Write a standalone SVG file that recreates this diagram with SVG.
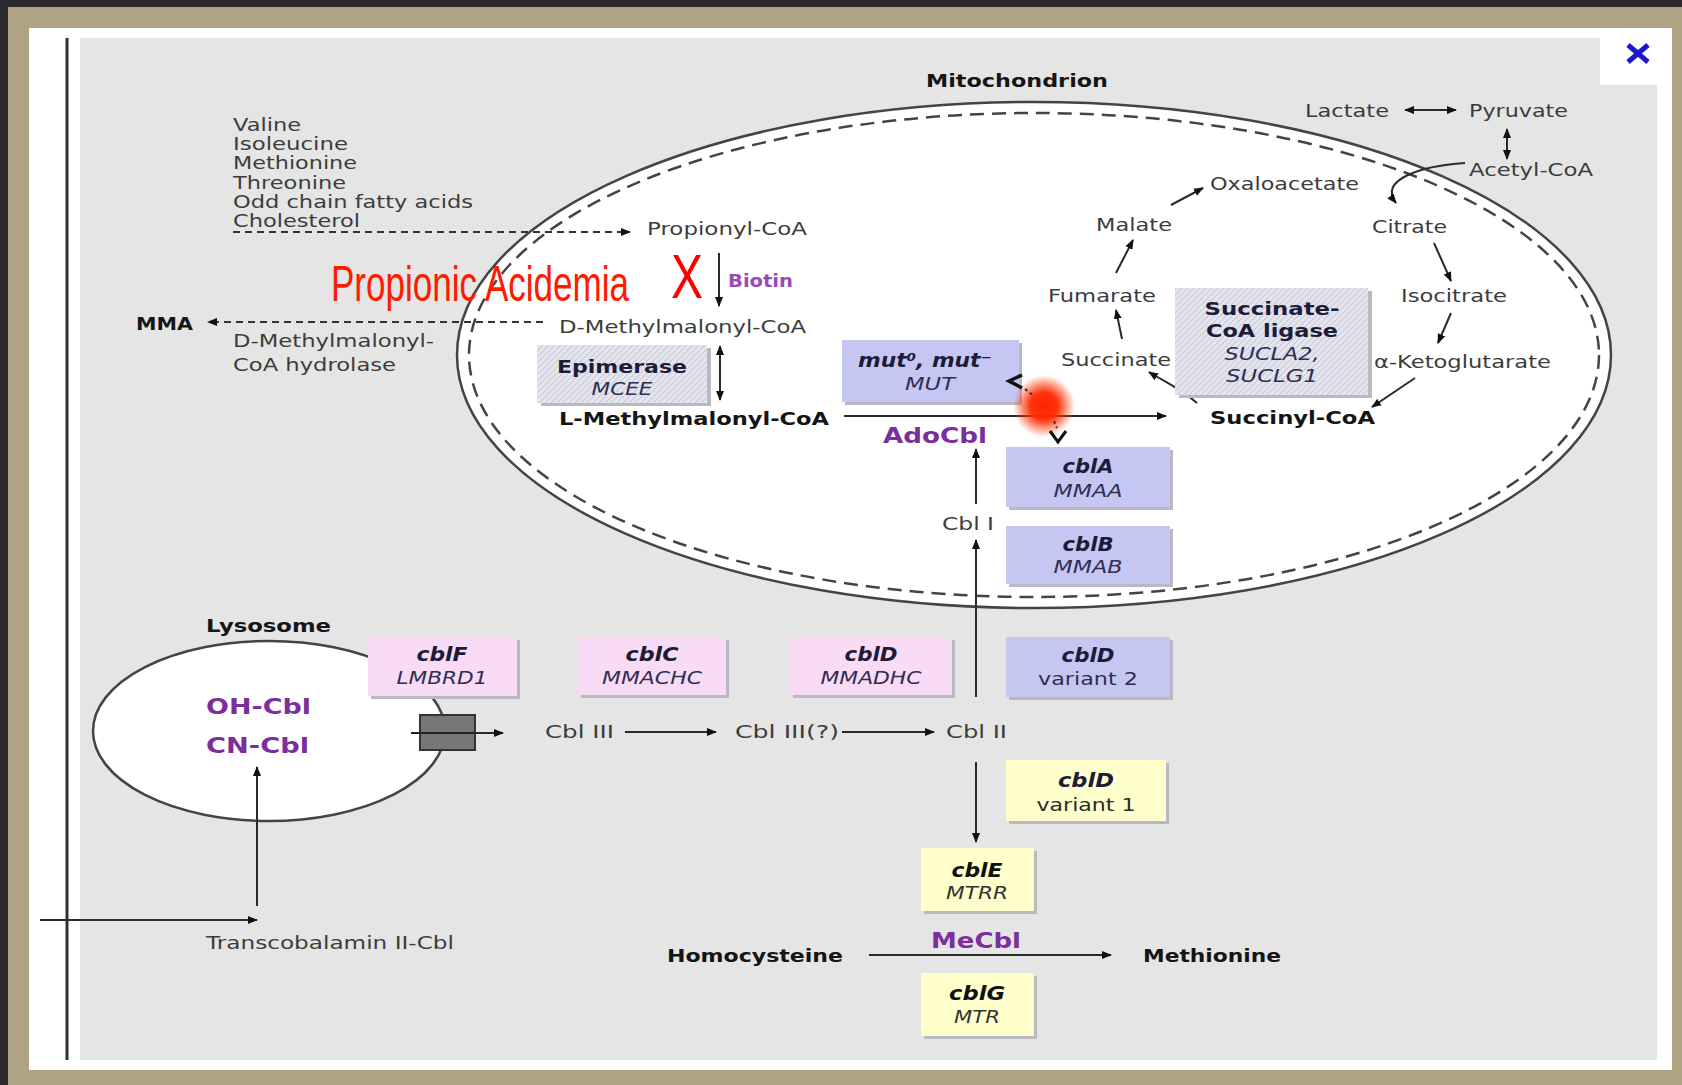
<svg xmlns="http://www.w3.org/2000/svg" width="1682" height="1085" viewBox="0 0 1682 1085">
<defs>
<style>
.t{font-family:"DejaVu Sans",Verdana,sans-serif;font-size:18px;fill:#3c3c3c}
.b{font-weight:bold;fill:#151515}
.p{font-weight:bold;fill:#7b2e9c;font-size:22px}
.gi{font-style:italic;fill:#2e2e52}
.gb{font-style:italic;font-weight:bold;fill:#1c1c3a;font-size:19px}
.ln{stroke:#2a2a2a;stroke-width:2;fill:none}
.dl{stroke:#333;stroke-width:2;fill:none;stroke-dasharray:7 5}
.pink{fill:#f9dbf5}
.lav{fill:#c6c6f2}
.yel{fill:#ffffcc}
.sh{fill:#b9b9c4}
.red{font-family:"Liberation Sans",Arial,sans-serif;fill:#ff1a00}
</style>
<marker id="ah" viewBox="0 0 10 10" refX="9" refY="5" markerWidth="10" markerHeight="10" markerUnits="userSpaceOnUse" orient="auto-start-reverse">
<path d="M0,1 L10,5 L0,9 z" fill="#111"/>
</marker>
<pattern id="hatch" patternUnits="userSpaceOnUse" width="6" height="6">
<rect width="6" height="6" fill="#e4e4ee"/>
<path d="M0,6 L6,0 M-1,1 L1,-1 M5,7 L7,5" stroke="#c2c2d2" stroke-width="1"/>
</pattern>
<radialGradient id="glow">
<stop offset="0" stop-color="#ff2200" stop-opacity="1"/>
<stop offset="0.45" stop-color="#ff2a00" stop-opacity="0.95"/>
<stop offset="0.75" stop-color="#ff3300" stop-opacity="0.45"/>
<stop offset="1" stop-color="#ff4400" stop-opacity="0"/>
</radialGradient>
</defs>

<!-- frame -->
<rect x="0" y="0" width="1682" height="1085" fill="#2a2a2c"/>
<rect x="8" y="7" width="1674" height="1078" fill="#aea382"/>
<rect x="29" y="28" width="1643" height="1042" fill="#ffffff"/>
<rect x="80" y="38" width="1577" height="1022" fill="#e5e5e5"/>
<rect x="1600" y="38" width="57" height="47" fill="#ffffff"/>
<line x1="67" y1="38" x2="67" y2="1060" stroke="#333" stroke-width="3"/>
<g id="close">
<line x1="1628" y1="45" x2="1648" y2="62" stroke="#1a1acc" stroke-width="5"/>
<line x1="1648" y1="45" x2="1628" y2="62" stroke="#1a1acc" stroke-width="5"/>
</g>

<!-- compartments -->
<g id="mitochondrion">
<ellipse cx="1034" cy="355" rx="577" ry="253" fill="#ffffff" stroke="#444" stroke-width="2.5"/>
<ellipse cx="1034" cy="355" rx="565" ry="242" fill="none" stroke="#444" stroke-width="2.5" stroke-dasharray="14 8"/>
<text class="t b" x="926" y="87" textLength="182" lengthAdjust="spacingAndGlyphs">Mitochondrion</text>
</g>
<g id="lysosome">
<ellipse cx="269" cy="731" rx="176" ry="90" fill="#ffffff" stroke="#444" stroke-width="2.5"/>
<text class="t b" x="206" y="632" textLength="125" lengthAdjust="spacingAndGlyphs">Lysosome</text>
<text class="t p" x="206" y="714" font-size="23" textLength="105" lengthAdjust="spacingAndGlyphs">OH-Cbl</text>
<text class="t p" x="206" y="753" font-size="23" textLength="103" lengthAdjust="spacingAndGlyphs">CN-Cbl</text>
</g>

<!-- connectors -->
<g id="connectors">
<path class="dl" d="M233,232 H630" marker-end="url(#ah)"/>
<path class="dl" d="M543,322 H208" marker-end="url(#ah)"/>
<path class="ln" d="M719,253 V306" marker-end="url(#ah)"/>
<path class="ln" d="M720,346 V400" marker-start="url(#ah)" marker-end="url(#ah)"/>
<path class="ln" d="M844,416 H1166" marker-end="url(#ah)"/>
<path class="ln" d="M976,697 V540" marker-end="url(#ah)"/>
<path class="ln" d="M976,504 V449" marker-end="url(#ah)"/>
<path class="ln" d="M976,762 V842" marker-end="url(#ah)"/>
<path class="ln" d="M625,732 H716" marker-end="url(#ah)"/>
<path class="ln" d="M842,732 H934" marker-end="url(#ah)"/>
<path class="ln" d="M411,733 H503" marker-end="url(#ah)"/>
<path class="ln" d="M869,955 H1111" marker-end="url(#ah)"/>
<path class="ln" d="M40,920 H257" marker-end="url(#ah)"/>
<path class="ln" d="M257,906 V767" marker-end="url(#ah)"/>
<path class="ln" d="M1405,110 H1456" marker-start="url(#ah)" marker-end="url(#ah)"/>
<path class="ln" d="M1507,129 V159" marker-start="url(#ah)" marker-end="url(#ah)"/>
<path class="ln" d="M1465,163 C1420,166 1378,180 1396,203" marker-end="url(#ah)"/>
<path class="ln" d="M1171,205 L1203,188" marker-end="url(#ah)"/>
<path class="ln" d="M1434,243 L1451,281" marker-end="url(#ah)"/>
<path class="ln" d="M1451,313 L1438,343" marker-end="url(#ah)"/>
<path class="ln" d="M1415,378 L1372,407" marker-end="url(#ah)"/>
<path class="ln" d="M1197,403 C1180,388 1165,382 1149,372" marker-end="url(#ah)"/>
<path class="ln" d="M1122,339 L1116,310" marker-end="url(#ah)"/>
<path class="ln" d="M1116,273 L1133,240" marker-end="url(#ah)"/>
<path d="M1182,388 L1205,369" stroke="#444" stroke-width="2" stroke-dasharray="6 5" fill="none"/>
</g>

<!-- transporter -->
<g id="transporter">
<rect x="420" y="715" width="55" height="35" fill="#777" stroke="#333" stroke-width="2"/>
<line x1="411" y1="733" x2="475" y2="733" stroke="#222" stroke-width="2"/>
</g>

<!-- enzyme boxes -->
<g id="epimerase">
<rect x="541" y="348" width="170" height="58" class="sh"/>
<rect x="537" y="345" width="170" height="58" fill="url(#hatch)"/>
<text class="t b" x="622" y="373" text-anchor="middle" textLength="130" lengthAdjust="spacingAndGlyphs" style="fill:#1c1c3a">Epimerase</text>
<text class="t gi" x="622" y="395" text-anchor="middle" textLength="61" lengthAdjust="spacingAndGlyphs">MCEE</text>
</g>
<g id="ligase">
<rect x="1179" y="291" width="193" height="107" class="sh"/>
<rect x="1175" y="288" width="193" height="107" fill="url(#hatch)"/>
<text class="t b" x="1272" y="315" text-anchor="middle" textLength="135" lengthAdjust="spacingAndGlyphs" style="fill:#1c1c3a">Succinate-</text>
<text class="t b" x="1272" y="337" text-anchor="middle" textLength="132" lengthAdjust="spacingAndGlyphs" style="fill:#1c1c3a">CoA ligase</text>
<text class="t gi" x="1272" y="360" text-anchor="middle" textLength="95" lengthAdjust="spacingAndGlyphs">SUCLA2,</text>
<text class="t gi" x="1272" y="382" text-anchor="middle" textLength="92" lengthAdjust="spacingAndGlyphs">SUCLG1</text>
</g>
<g id="mut">
<rect x="845" y="343" width="177" height="62" class="sh"/>
<rect x="842" y="340" width="177" height="62" class="lav"/>
<text class="t gb" x="925" y="367" text-anchor="middle" textLength="134" lengthAdjust="spacingAndGlyphs">mut⁰, mut⁻</text>
<text class="t gi" x="930" y="390" text-anchor="middle" textLength="50" lengthAdjust="spacingAndGlyphs">MUT</text>
</g>
<g id="cblA">
<rect x="1009" y="450" width="164" height="60" class="sh"/>
<rect x="1006" y="447" width="164" height="60" class="lav"/>
<text class="t gb" x="1088" y="473" text-anchor="middle" textLength="51" lengthAdjust="spacingAndGlyphs">cblA</text>
<text class="t gi" x="1088" y="497" text-anchor="middle" textLength="69" lengthAdjust="spacingAndGlyphs">MMAA</text>
</g>
<g id="cblB">
<rect x="1009" y="529" width="164" height="58" class="sh"/>
<rect x="1006" y="526" width="164" height="58" class="lav"/>
<text class="t gb" x="1088" y="551" text-anchor="middle" textLength="51" lengthAdjust="spacingAndGlyphs">cblB</text>
<text class="t gi" x="1088" y="573" text-anchor="middle" textLength="69" lengthAdjust="spacingAndGlyphs">MMAB</text>
</g>
<g id="cblD2">
<rect x="1009" y="640" width="164" height="60" class="sh"/>
<rect x="1006" y="637" width="164" height="60" class="lav"/>
<text class="t gb" x="1088" y="662" text-anchor="middle" textLength="53" lengthAdjust="spacingAndGlyphs">cblD</text>
<text class="t" x="1088" y="685" text-anchor="middle" textLength="100" lengthAdjust="spacingAndGlyphs" style="fill:#2e2e52">variant 2</text>
</g>
<g id="cblF">
<rect x="371" y="640" width="149" height="59" class="sh"/>
<rect x="368" y="637" width="149" height="59" class="pink"/>
<text class="t gb" x="442" y="661" text-anchor="middle" textLength="51" lengthAdjust="spacingAndGlyphs">cblF</text>
<text class="t gi" x="442" y="684" text-anchor="middle" textLength="91" lengthAdjust="spacingAndGlyphs">LMBRD1</text>
</g>
<g id="cblC">
<rect x="581" y="640" width="148" height="58" class="sh"/>
<rect x="578" y="637" width="148" height="58" class="pink"/>
<text class="t gb" x="652" y="661" text-anchor="middle" textLength="53" lengthAdjust="spacingAndGlyphs">cblC</text>
<text class="t gi" x="652" y="684" text-anchor="middle" textLength="100" lengthAdjust="spacingAndGlyphs">MMACHC</text>
</g>
<g id="cblD">
<rect x="793" y="640" width="162" height="58" class="sh"/>
<rect x="790" y="637" width="162" height="58" class="pink"/>
<text class="t gb" x="871" y="661" text-anchor="middle" textLength="53" lengthAdjust="spacingAndGlyphs">cblD</text>
<text class="t gi" x="871" y="684" text-anchor="middle" textLength="101" lengthAdjust="spacingAndGlyphs">MMADHC</text>
</g>
<g id="cblD1">
<rect x="1009" y="763" width="160" height="61" class="sh"/>
<rect x="1006" y="760" width="160" height="61" class="yel"/>
<text class="t gb" x="1086" y="787" text-anchor="middle" textLength="56" lengthAdjust="spacingAndGlyphs">cblD</text>
<text class="t" x="1086" y="811" text-anchor="middle" textLength="99" lengthAdjust="spacingAndGlyphs" style="fill:#2a2a2a">variant 1</text>
</g>
<g id="cblE">
<rect x="924" y="851" width="113" height="63" class="sh"/>
<rect x="921" y="848" width="113" height="63" class="yel"/>
<text class="t gb" x="977" y="877" text-anchor="middle" textLength="51" lengthAdjust="spacingAndGlyphs" style="fill:#111">cblE</text>
<text class="t gi" x="977" y="899" text-anchor="middle" textLength="62" lengthAdjust="spacingAndGlyphs" style="fill:#333">MTRR</text>
</g>
<g id="cblG">
<rect x="924" y="976" width="113" height="63" class="sh"/>
<rect x="921" y="973" width="113" height="63" class="yel"/>
<text class="t gb" x="977" y="1000" text-anchor="middle" textLength="56" lengthAdjust="spacingAndGlyphs" style="fill:#111">cblG</text>
<text class="t gi" x="977" y="1023" text-anchor="middle" textLength="46" lengthAdjust="spacingAndGlyphs" style="fill:#333">MTR</text>
</g>

<!-- mutation marker over the MUT / cblA junction -->
<g id="mutation-marker">
<circle cx="1044" cy="406" r="31" fill="url(#glow)"/>
<path d="M1025,389 L1034,396 M1054,421 L1057,428" stroke="#333" stroke-width="2" stroke-dasharray="3 3" fill="none"/>
<polyline points="1022,375 1009,381 1022,388" fill="none" stroke="#111" stroke-width="3.5"/>
<polyline points="1050,431 1058,442 1066,431" fill="none" stroke="#111" stroke-width="3"/>
</g>

<!-- metabolites / labels -->
<g id="precursors">
<text class="t" x="233" y="131" textLength="68" lengthAdjust="spacingAndGlyphs">Valine</text>
<text class="t" x="233" y="150" textLength="115" lengthAdjust="spacingAndGlyphs">Isoleucine</text>
<text class="t" x="233" y="169" textLength="124" lengthAdjust="spacingAndGlyphs">Methionine</text>
<text class="t" x="233" y="189" textLength="113" lengthAdjust="spacingAndGlyphs">Threonine</text>
<text class="t" x="233" y="208" textLength="240" lengthAdjust="spacingAndGlyphs">Odd chain fatty acids</text>
<text class="t" x="233" y="227" textLength="127" lengthAdjust="spacingAndGlyphs">Cholesterol</text>
</g>
<g id="propionyl"><text class="t" x="647" y="235" textLength="160" lengthAdjust="spacingAndGlyphs">Propionyl-CoA</text></g>
<g id="biotin"><text class="t" x="728" y="287" font-size="15" textLength="65" lengthAdjust="spacingAndGlyphs" style="font-weight:bold;fill:#9a4ab8">Biotin</text></g>
<g id="pa">
<text class="red" transform="translate(331,301) scale(1,1.43)" font-size="35" textLength="298" lengthAdjust="spacingAndGlyphs">Propionic Acidemia</text>
<text class="red" transform="translate(671,298) scale(1,1.3)" font-size="49" textLength="32" lengthAdjust="spacingAndGlyphs" style="fill:#ff0000">X</text>
</g>
<g id="mma"><text class="t b" x="136" y="330" textLength="57" lengthAdjust="spacingAndGlyphs">MMA</text></g>
<g id="hydrolase">
<text class="t" x="233" y="347" textLength="201" lengthAdjust="spacingAndGlyphs">D-Methylmalonyl-</text>
<text class="t" x="233" y="371" textLength="163" lengthAdjust="spacingAndGlyphs">CoA hydrolase</text>
</g>
<g id="dmm"><text class="t" x="559" y="333" textLength="247" lengthAdjust="spacingAndGlyphs">D-Methylmalonyl-CoA</text></g>
<g id="lmm"><text class="t b" x="559" y="425" textLength="270" lengthAdjust="spacingAndGlyphs">L-Methylmalonyl-CoA</text></g>
<g id="adocbl"><text class="t p" x="883" y="443" textLength="104" lengthAdjust="spacingAndGlyphs">AdoCbl</text></g>
<g id="succinylcoa"><text class="t b" x="1210" y="424" textLength="165" lengthAdjust="spacingAndGlyphs">Succinyl-CoA</text></g>
<g id="cbl1"><text class="t" x="942" y="530" textLength="52" lengthAdjust="spacingAndGlyphs">Cbl I</text></g>
<g id="cbl3"><text class="t" x="545" y="738" textLength="69" lengthAdjust="spacingAndGlyphs">Cbl III</text></g>
<g id="cbl3q"><text class="t" x="735" y="738" textLength="104" lengthAdjust="spacingAndGlyphs">Cbl III(?)</text></g>
<g id="cbl2"><text class="t" x="946" y="738" textLength="61" lengthAdjust="spacingAndGlyphs">Cbl II</text></g>
<g id="homocysteine"><text class="t b" x="667" y="962" textLength="176" lengthAdjust="spacingAndGlyphs">Homocysteine</text></g>
<g id="mecbl"><text class="t p" x="931" y="948" textLength="90" lengthAdjust="spacingAndGlyphs">MeCbl</text></g>
<g id="methionine"><text class="t b" x="1143" y="962" textLength="138" lengthAdjust="spacingAndGlyphs">Methionine</text></g>
<g id="tc2"><text class="t" x="206" y="949" textLength="248" lengthAdjust="spacingAndGlyphs">Transcobalamin II-Cbl</text></g>
<g id="tca">
<text class="t" x="1305" y="117" textLength="84" lengthAdjust="spacingAndGlyphs">Lactate</text>
<text class="t" x="1469" y="117" textLength="99" lengthAdjust="spacingAndGlyphs">Pyruvate</text>
<text class="t" x="1469" y="176" textLength="124" lengthAdjust="spacingAndGlyphs">Acetyl-CoA</text>
<text class="t" x="1210" y="190" textLength="149" lengthAdjust="spacingAndGlyphs">Oxaloacetate</text>
<text class="t" x="1096" y="231" textLength="76" lengthAdjust="spacingAndGlyphs">Malate</text>
<text class="t" x="1372" y="233" textLength="75" lengthAdjust="spacingAndGlyphs">Citrate</text>
<text class="t" x="1048" y="302" textLength="108" lengthAdjust="spacingAndGlyphs">Fumarate</text>
<text class="t" x="1401" y="302" textLength="106" lengthAdjust="spacingAndGlyphs">Isocitrate</text>
<text class="t" x="1061" y="366" textLength="110" lengthAdjust="spacingAndGlyphs">Succinate</text>
<text class="t" x="1374" y="368" textLength="177" lengthAdjust="spacingAndGlyphs">α-Ketoglutarate</text>
</g>
</svg>
